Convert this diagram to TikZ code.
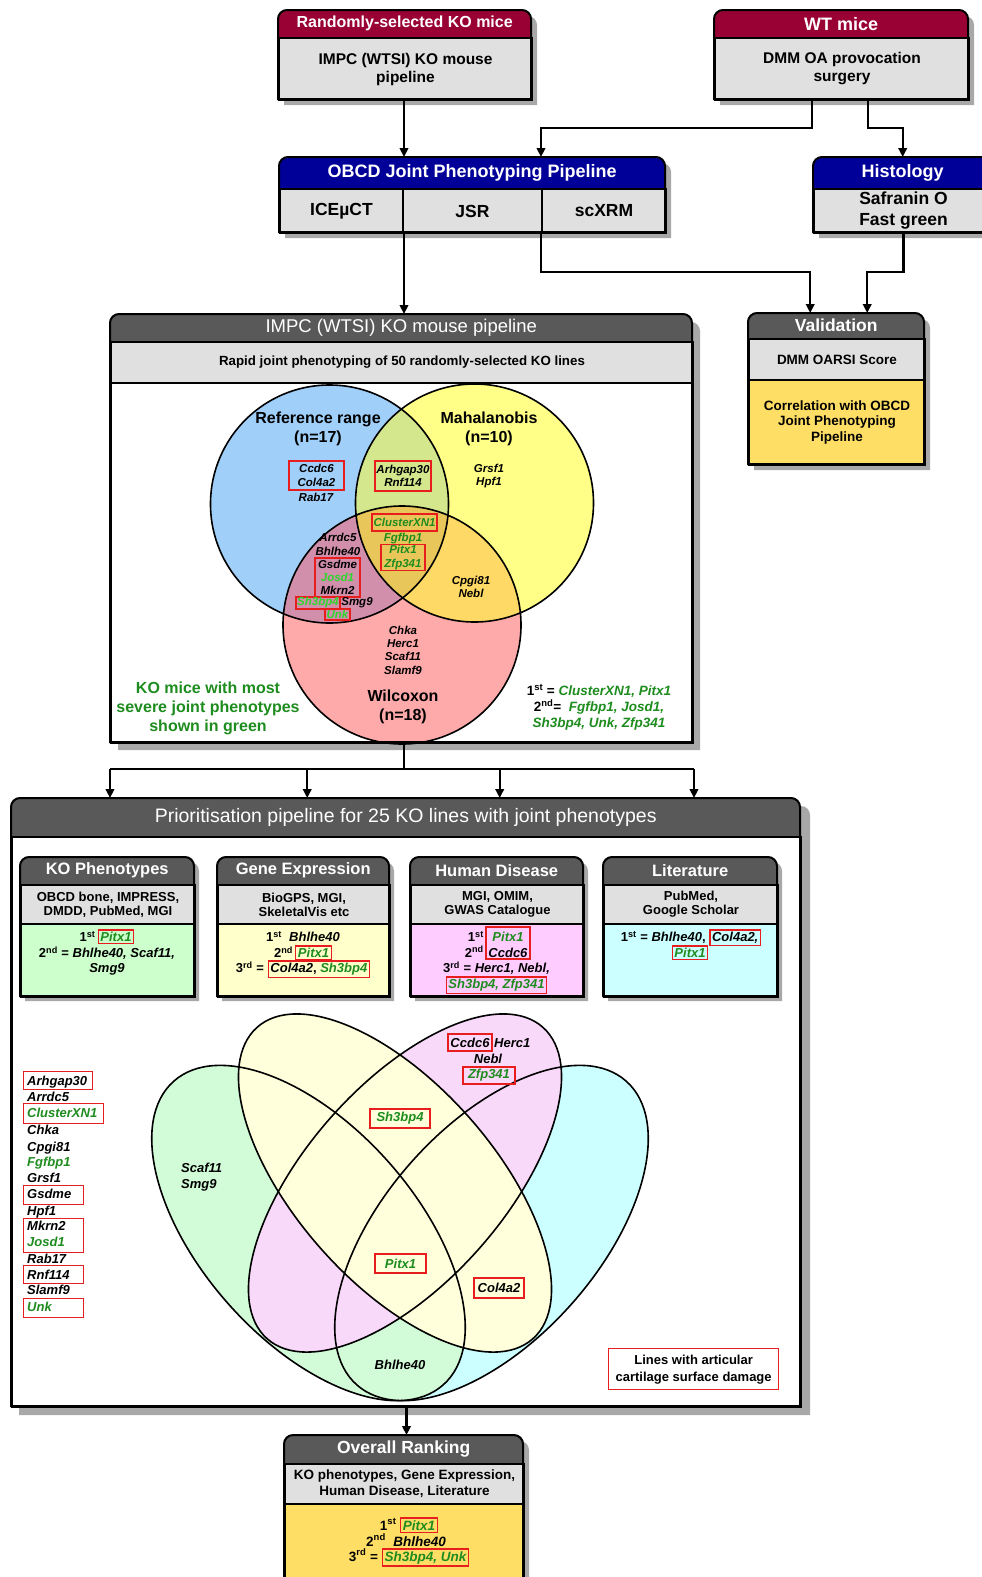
\documentclass[tikz,border=0pt]{standalone}
\usepackage{fontspec}
\setmainfont{Liberation Sans}
\usetikzlibrary{arrows.meta,calc}
\definecolor{crim}{HTML}{990033}
\definecolor{navy}{HTML}{000099}
\definecolor{dg}{HTML}{595959}
\definecolor{lg}{HTML}{E0E0E0}
\definecolor{yel}{HTML}{FFDE66}
\definecolor{shadowgray}{HTML}{A8A8A8}
\definecolor{gtxt}{HTML}{1E8C1E}
\definecolor{gbright}{HTML}{2ED62E}
\definecolor{boxred}{HTML}{E81E1E}
\definecolor{vblue}{HTML}{A0CFFA}
\definecolor{vyel}{HTML}{FFFF88}
\definecolor{vpink}{HTML}{FFAAAA}
\definecolor{vby}{HTML}{D4E78C}
\definecolor{vbp}{HTML}{D18FAB}
\definecolor{vyp}{HTML}{FFD966}
\definecolor{vbyp}{HTML}{E9C65A}
\definecolor{kog}{HTML}{CCFFCC}
\definecolor{gey}{HTML}{FFFFCC}
\definecolor{hdp}{HTML}{FFCCFF}
\definecolor{lic}{HTML}{CCFFFF}
\definecolor{eg}{HTML}{D2FBD8}
\definecolor{ey}{HTML}{FFFFDC}
\definecolor{ep}{HTML}{F9D9F9}
\definecolor{ec}{HTML}{CCFFFF}
\newcommand\fsz[2]{\fontsize{#1}{#2}\selectfont}
\newcommand\gi[1]{\textcolor{gtxt}{\itshape #1}}
\newcommand\rb[1]{\smash{{\color{boxred}\setlength\fboxrule{1.3pt}\setlength\fboxsep{1.5pt}\fbox{\color{black}#1}}}}
\newcommand\topr[4]{(#1,#4) -- (#1,#2+9) arc[start angle=180,end angle=270,radius=9] -- (#3-9,#2) arc[start angle=270,end angle=360,radius=9] -- (#3,#4) -- cycle}
\tikzset{
 bord/.style={draw=black, line width=2pt},
 hdrtxt/.style={text=white, inner sep=0pt, anchor=north west, font=\bfseries\fsz{18}{20}},
 bodyn/.style={draw=black, line width=2pt, inner sep=0pt, anchor=north west, align=center},
 gene/.style={font=\bfseries\itshape\fsz{11.5}{13.3}, inner sep=0pt, align=center},
 gbox/.style={draw=boxred, line width=1.3pt, inner sep=0pt},
 arr/.style={line width=2.4pt, -{Triangle[length=9pt,width=8.5pt]}},
 conn/.style={line width=2.4pt},
 btxt/.style={font=\bfseries\fsz{13}{15}, inner sep=0pt, anchor=base},
 ltxt/.style={font=\bfseries\itshape\fsz{13}{15}, inner sep=0pt, anchor=base west},
 vlab/.style={font=\bfseries\fsz{16}{19}, inner sep=0pt, align=center},
}
\begin{document}
\begin{tikzpicture}[x=1pt,y=-1pt]
\useasboundingbox (0,0) rectangle (982,1577);
\fill[white] (0,0) rectangle (982,1577);

% ---------- Box A
\fill[shadowgray] \topr{284}{16}{537}{105};
\fill[crim] \topr{278}{10}{531}{37};
\node[bodyn, fill=lg, minimum width=253, minimum height=62, font=\bfseries\fsz{15.5}{18}] (Ab) at (278,37) {IMPC (WTSI) KO mouse\\pipeline};
\node[hdrtxt, minimum width=253, minimum height=27, font=\bfseries\fsz{16}{18}] (Ah) at (278,10) {Randomly-selected KO mice};
\draw[bord] \topr{278}{10}{531}{99};

% ---------- Box B
\fill[shadowgray] \topr{720}{16}{974}{105};
\fill[crim] \topr{714}{10}{968}{37};
\node[bodyn, fill=lg, minimum width=254, minimum height=62, font=\bfseries\fsz{15.5}{18}] (Bb) at (714,37) {DMM OA provocation\\surgery};
\node[hdrtxt, minimum width=254, minimum height=27] (Bh) at (714,10) {WT mice};
\draw[bord] \topr{714}{10}{968}{99};

% ---------- OBCD
\fill[shadowgray] \topr{285}{163}{671}{238};
\fill[navy] \topr{279}{157}{665}{188};
\node[bodyn, fill=lg, minimum width=123, minimum height=44, font=\bfseries\fsz{17.5}{20}] (c1) at (279,188) {ICEµCT};
\node[bodyn, fill=lg, minimum width=139, minimum height=44, font=\bfseries\fsz{17.5}{20}] (c2) at (402,188) {JSR};
\node[bodyn, fill=lg, minimum width=124, minimum height=44, font=\bfseries\fsz{17.5}{20}] (c3) at (541,188) {scXRM};
\node[hdrtxt, minimum width=386, minimum height=31] (OBh) at (279,157) {OBCD Joint Phenotyping Pipeline};
\draw[bord] \topr{279}{157}{665}{232};

% ---------- Histology
\fill[shadowgray] \topr{819}{163}{998}{238};
\fill[navy] \topr{813}{157}{992}{188};
\node[bodyn, fill=lg, minimum width=179, minimum height=44, font=\bfseries\fsz{17.5}{21}] (Hb) at (813,188) {Safranin O\\Fast green};
\node[hdrtxt, minimum width=179, minimum height=31] (Hh) at (813,157) {Histology};
\draw[bord] \topr{813}{157}{992}{232};

% ---------- IMPC
\fill[shadowgray] \topr{118}{322}{700}{750};
\fill[dg] \topr{110}{314}{692}{341};
\node[bodyn, fill=lg, minimum width=582, minimum height=41, font=\bfseries\fsz{13.3}{15}] (Ig) at (110,341) {Rapid joint phenotyping of 50 randomly-selected KO lines};
\node[bodyn, fill=white, minimum width=582, minimum height=360] (Iw) at (110,382) {};
\node[hdrtxt, font=\fsz{18.5}{20}, minimum width=582, minimum height=27] (Ih) at (110,314) {IMPC (WTSI) KO mouse pipeline};

% Venn 1
\coordinate (cB) at (329.5,504);
\coordinate (cY) at (474.5,503);
\coordinate (cP) at (402,625);
\fill[vblue] (cB) circle[radius=119];
\fill[vyel] (cY) circle[radius=119];
\fill[vpink] (cP) circle[radius=119];
\begin{scope}
\clip (cB) circle[radius=119];
\fill[vby] (cY) circle[radius=119];
\fill[vbp] (cP) circle[radius=119];
\end{scope}
\begin{scope}
\clip (cY) circle[radius=119];
\fill[vyp] (cP) circle[radius=119];
\clip (cB) circle[radius=119];
\fill[vbyp] (cP) circle[radius=119];
\end{scope}
\draw[line width=1.6pt] (cB) circle[radius=119] (cY) circle[radius=119] (cP) circle[radius=119];

\node[vlab] (L1) at (318,428.5) {Reference range\\(n=17)};
\node[vlab] (L2) at (489,428.5) {Mahalanobis\\(n=10)};
\node[vlab] (L3) at (403,706.5) {Wilcoxon\\(n=18)};
\node[gene, gbox, minimum width=55, minimum height=29] (v1) at (316.5,475.5) {Ccdc6\\Col4a2};
\node[gene] (v2) at (316,497) {Rab17};
\node[gene, gbox, minimum width=56, minimum height=30] (v3) at (403,476) {Arhgap30\\Rnf114};
\node[gene] (v4) at (489,476) {Grsf1\\Hpf1};
\node[gene, gbox, text=gtxt, minimum width=65, minimum height=17] (v5) at (404.5,522.5) {ClusterXN1};
\node[gene, text=gtxt] (v6) at (403,539) {Fgfbp1};
\node[gene, gbox, text=gtxt, minimum width=44, minimum height=26] (v7) at (403,557.5) {Pitx1\\Zfp341};
\node[gene] (v8) at (338,544.5) {Arrdc5\\Bhlhe40};
\node[gene, gbox, minimum width=45, minimum height=39] (v9) at (337.5,577.5) {Gsdme\\\textcolor{gbright}{Josd1}\\Mkrn2};
\node[gene, gbox, text=gbright, minimum width=44, minimum height=12] (v10) at (318,603) {Sh3bp4};
\node[gene] (v11) at (357,603) {Smg9};
\node[gene, gbox, text=gbright, minimum width=25, minimum height=11] (v12) at (337.5,614.5) {Unk};
\node[gene] (v13) at (471,587) {Cpgi81\\Nebl};
\node[gene] (v14) at (403,650) {Chka\\Herc1\\Scaf11\\Slamf9};
\node[font=\bfseries\fsz{16}{19}, text=gtxt, align=center, inner sep=0pt] (note) at (208,708) {KO mice with most\\severe joint phenotypes\\shown in green};
\node[font=\bfseries\fsz{13.5}{16}, align=center, inner sep=0pt] (rank) at (599,707) {1\textsuperscript{st} = \gi{ClusterXN1, Pitx1}\\2\textsuperscript{nd}=\ \ \gi{Fgfbp1, Josd1,}\\\gi{Sh3bp4, Unk, Zfp341}};
\draw[bord] \topr{110}{314}{692}{742};

% ---------- Validation
\fill[shadowgray] \topr{754}{319}{930}{470};
\fill[dg] \topr{748}{313}{924}{338};
\node[bodyn, fill=lg, minimum width=176, minimum height=41, font=\bfseries\fsz{13.5}{15}] (Vg) at (748,338) {DMM OARSI Score};
\node[bodyn, fill=yel, minimum width=176, minimum height=85, font=\bfseries\fsz{13.5}{15.5}] (Vy) at (748,379) {Correlation with OBCD\\Joint Phenotyping\\Pipeline};
\node[hdrtxt, font=\bfseries\fsz{17.5}{20}, minimum width=176, minimum height=25] (Vh) at (748,313) {Validation};
\draw[bord] \topr{748}{313}{924}{464};

% ---------- Prioritisation
\fill[shadowgray] \topr{19}{806}{810}{1415};
\fill[dg] \topr{11}{798}{800}{836};
\node[bodyn, fill=white, minimum width=789, minimum height=570] (Pw) at (11,836) {};
\node[hdrtxt, font=\fsz{19.5}{22}, minimum width=789, minimum height=38] (Ph) at (11,798) {Prioritisation pipeline for 25 KO lines with joint phenotypes};

% KO box
\fill[shadowgray] \topr{25}{862}{199}{1001};
\fill[dg] \topr{20}{857}{194}{884};
\node[bodyn, fill=lg, minimum width=174, minimum height=39, font=\bfseries\fsz{13}{14}] (KOg) at (20,884) {OBCD bone, IMPRESS,\\DMDD, PubMed, MGI};
\node[bodyn, fill=kog, minimum width=174, minimum height=73] (KOc) at (20,923) {};
\node[hdrtxt, font=\bfseries\fsz{16.5}{18}, minimum width=174, minimum height=27] (KOh) at (20,857) {KO Phenotypes};
\node[btxt] (KO1) at (107,941.5) {1\textsuperscript{st}\,\rb{\gi{Pitx1}}};
\node[btxt] (KO2) at (107,957.5) {2\textsuperscript{nd} = \textit{Bhlhe40, Scaf11,}};
\node[btxt] (KO3) at (107,972.5) {\textit{Smg9}};
\draw[bord] \topr{20}{857}{194}{996};

% GE box
\fill[shadowgray] \topr{222}{862}{394}{1001};
\fill[dg] \topr{217}{857}{389}{884};
\node[bodyn, fill=lg, minimum width=172, minimum height=39, font=\bfseries\fsz{13}{14}] (GEg) at (217,884) {BioGPS, MGI,\\SkeletalVis etc};
\node[bodyn, fill=gey, minimum width=172, minimum height=73] (GEc) at (217,923) {};
\node[hdrtxt, font=\bfseries\fsz{16.5}{18}, minimum width=172, minimum height=27] (GEh) at (217,857) {Gene Expression};
\node[btxt] (GE1) at (303,941.5) {1\textsuperscript{st}\ \ \textit{Bhlhe40}};
\node[btxt] (GE2) at (303,957.5) {2\textsuperscript{nd}\,\rb{\gi{Pitx1}}};
\node[btxt] (GE3) at (303,972.5) {3\textsuperscript{rd} = \rb{\textit{Col4a2}, \gi{Sh3bp4}}};
\draw[bord] \topr{217}{857}{389}{996};

% HD box
\fill[shadowgray] \topr{415}{862}{588}{1001};
\fill[dg] \topr{410}{857}{583}{884};
\node[bodyn, fill=lg, minimum width=173, minimum height=39, font=\bfseries\fsz{13}{14}] (HDg) at (410,884) {MGI, OMIM,\\GWAS Catalogue};
\node[bodyn, fill=hdp, minimum width=173, minimum height=73] (HDc) at (410,923) {};
\node[hdrtxt, font=\bfseries\fsz{16.5}{18}, minimum width=173, minimum height=27] (HDh) at (410,857) {Human Disease};
\node[gbox, minimum width=44, minimum height=32] (HDb) at (508,943) {};
\node[btxt, anchor=base east] (HD1a) at (484,941.5) {1\textsuperscript{st}};
\node[btxt] (HD1b) at (508,941.5) {\gi{Pitx1}};
\node[btxt, anchor=base east] (HD2a) at (484,957) {2\textsuperscript{nd}};
\node[btxt] (HD2b) at (508,957) {\textit{Ccdc6}};
\node[btxt] (HD3) at (496.5,972.5) {3\textsuperscript{rd} = \textit{Herc1, Nebl,}};
\node[btxt] (HD4) at (496.5,988.5) {\rb{\gi{Sh3bp4, Zfp341}}};
\draw[bord] \topr{410}{857}{583}{996};

% Literature box
\fill[shadowgray] \topr{608}{862}{782}{1001};
\fill[dg] \topr{603}{857}{777}{884};
\node[bodyn, fill=lg, minimum width=174, minimum height=39, font=\bfseries\fsz{13}{14}] (LIg) at (603,884) {PubMed,\\Google Scholar};
\node[bodyn, fill=lic, minimum width=174, minimum height=73] (LIc) at (603,923) {};
\node[hdrtxt, font=\bfseries\fsz{16.5}{18}, minimum width=174, minimum height=27] (LIh) at (603,857) {Literature};
\node[btxt] (LI1) at (691,941.5) {1\textsuperscript{st} = \textit{Bhlhe40}, \rb{\textit{Col4a2,}}};
\node[btxt] (LI2) at (690,957.5) {\rb{\gi{Pitx1}}};
\draw[bord] \topr{603}{857}{777}{996};

% Venn 2
\fill[ec, rotate around={48.4:(491.5,1233)}] (491.5,1233) ellipse[x radius=203, y radius=107];
\fill[eg, rotate around={-48.4:(308.5,1233)}] (308.5,1233) ellipse[x radius=203, y radius=107];
\fill[ep, rotate around={48.5:(405,1183)}] (405,1183) ellipse[x radius=208, y radius=99];
\fill[ey, rotate around={-48.5:(395,1183)}] (395,1183) ellipse[x radius=208, y radius=99];
\draw[line width=1.6pt, rotate around={48.4:(491.5,1233)}] (491.5,1233) ellipse[x radius=203, y radius=107];
\draw[line width=1.6pt, rotate around={-48.4:(308.5,1233)}] (308.5,1233) ellipse[x radius=203, y radius=107];
\draw[line width=1.6pt, rotate around={48.5:(405,1183)}] (405,1183) ellipse[x radius=208, y radius=99];
\draw[line width=1.6pt, rotate around={-48.5:(395,1183)}] (395,1183) ellipse[x radius=208, y radius=99];

\node[ltxt, font=\bfseries\itshape\fsz{13}{16}, anchor=west, align=left] (w1) at (181,1177) {Scaf11\\Smg9};
\node[gene, gbox, font=\bfseries\itshape\fsz{13}{15}, minimum width=44, minimum height=17] (w2) at (470,1042.5) {Ccdc6};
\node[ltxt] (w3) at (494,1047.5) {Herc1};
\node[gene, font=\bfseries\itshape\fsz{13}{15}] (w4) at (488,1059) {Nebl};
\node[gene, gbox, text=gtxt, font=\bfseries\itshape\fsz{13}{15}, minimum width=52, minimum height=17] (w5) at (489,1075.5) {Zfp341};
\node[gene, gbox, text=gtxt, font=\bfseries\itshape\fsz{13}{15}, minimum width=60, minimum height=19] (w6) at (400,1118.5) {Sh3bp4};
\node[gene, gbox, text=gtxt, font=\bfseries\itshape\fsz{13}{15}, minimum width=51, minimum height=19] (w7) at (400.5,1263.5) {Pitx1};
\node[gene, gbox, font=\bfseries\itshape\fsz{13}{15}, minimum width=50, minimum height=20] (w8) at (499,1288) {Col4a2};
\node[gene, font=\bfseries\itshape\fsz{13}{15}] (w9) at (400,1365) {Bhlhe40};

% left list
\node[ltxt] (g1) at (27,1085.5) {Arhgap30};
\node[ltxt] (g2) at (27,1101.5) {Arrdc5};
\node[ltxt, text=gtxt] (g3) at (27,1117.5) {ClusterXN1};
\node[ltxt] (g4) at (27,1134.5) {Chka};
\node[ltxt] (g5) at (27,1151.5) {Cpgi81};
\node[ltxt, text=gtxt] (g6) at (27,1166.5) {Fgfbp1};
\node[ltxt] (g7) at (27,1182.5) {Grsf1};
\node[ltxt] (g8) at (27,1198.5) {Gsdme};
\node[ltxt] (g9) at (27,1215.5) {Hpf1};
\node[ltxt] (g10) at (27,1230.5) {Mkrn2};
\node[ltxt, text=gtxt] (g11) at (27,1246.5) {Josd1};
\node[ltxt] (g12) at (27,1263.5) {Rab17};
\node[ltxt] (g13) at (27,1279.5) {Rnf114};
\node[ltxt] (g14) at (27,1294.5) {Slamf9};
\node[ltxt, text=gtxt] (g15) at (27,1311.5) {Unk};
\node[gbox, anchor=north west, minimum width=69, minimum height=18] (gb1) at (23,1071) {};
\node[gbox, anchor=north west, minimum width=80, minimum height=20] (gb2) at (23,1103) {};
\node[gbox, anchor=north west, minimum width=60, minimum height=19] (gb3) at (23,1185) {};
\node[gbox, anchor=north west, minimum width=60, minimum height=34] (gb4) at (23,1218) {};
\node[gbox, anchor=north west, minimum width=60, minimum height=18] (gb5) at (23,1265) {};
\node[gbox, anchor=north west, minimum width=60, minimum height=19] (gb6) at (23,1298) {};

% legend
\node[gbox, anchor=north west, minimum width=170, minimum height=41, align=center, font=\bfseries\fsz{13}{17}] (leg) at (608,1348) {Lines with articular\\cartilage surface damage};
\draw[bord] \topr{11}{798}{800}{1406};

% ---------- Overall Ranking
\fill[shadowgray] \topr{290}{1441}{529}{1600};
\fill[dg] \topr{284}{1435}{523}{1463};
\node[bodyn, fill=lg, minimum width=239, minimum height=40, font=\bfseries\fsz{13.5}{16}] (Og) at (284,1463) {KO phenotypes, Gene Expression,\\Human Disease, Literature};
\node[bodyn, fill=yel, minimum width=239, minimum height=90] (Oy) at (284,1503) {};
\node[hdrtxt, font=\bfseries\fsz{17.5}{20}, minimum width=239, minimum height=28] (Oh) at (284,1435) {Overall Ranking};
\node[btxt, font=\bfseries\fsz{13.5}{15}] (O1) at (409,1530) {1\textsuperscript{st}\ \rb{\gi{Pitx1}}};
\node[btxt, font=\bfseries\fsz{13.5}{15}] (O2) at (406,1546) {2\textsuperscript{nd}\ \ \textit{Bhlhe40}};
\node[btxt, font=\bfseries\fsz{13.5}{15}] (O3) at (409,1561) {3\textsuperscript{rd} = \rb{\gi{Sh3bp4, Unk}}};
\draw[bord] \topr{284}{1435}{523}{1593};

% ---------- connectors
\draw[arr] (c1.north east |- Ab.south) -- (c1.north east |- OBh.north);
\draw[arr] ([xshift=-30pt]Bb.south) -- ++(0,27) -| (OBh.north -| c3.north west);
\draw[arr] ([xshift=26pt]Bb.south) -- ++(0,27) -| (Hh.north);
\draw[arr] (c1.south east) -- (c1.south east |- Ih.north);
\draw[arr] (c3.south west) -- ++(0,38) -| ([xshift=-26pt]Vh.north);
\draw[arr] (Hb.south) -- ++(0,38) -| ([xshift=31pt]Vh.north);
\draw[conn] (c1.south east |- Iw.south) -- ++(0,25) coordinate (sp);
\draw[conn] (sp -| Iw.south west) -- (sp -| Iw.south east);
\draw[arr] (sp -| Iw.south west) -- (Iw.south west |- Ph.north);
\draw[arr] ([xshift=4pt]sp -| GEh.north) -- ([xshift=4pt]GEh.north |- Ph.north);
\draw[arr] ([xshift=3pt]sp -| HDh.north) -- ([xshift=3pt]HDh.north |- Ph.north);
\draw[arr] (sp -| Iw.south east) -- (Iw.south east |- Ph.north);
\draw[arr] (Pw.south) -- (Pw.south |- Oh.north);
\end{tikzpicture}
\end{document}
